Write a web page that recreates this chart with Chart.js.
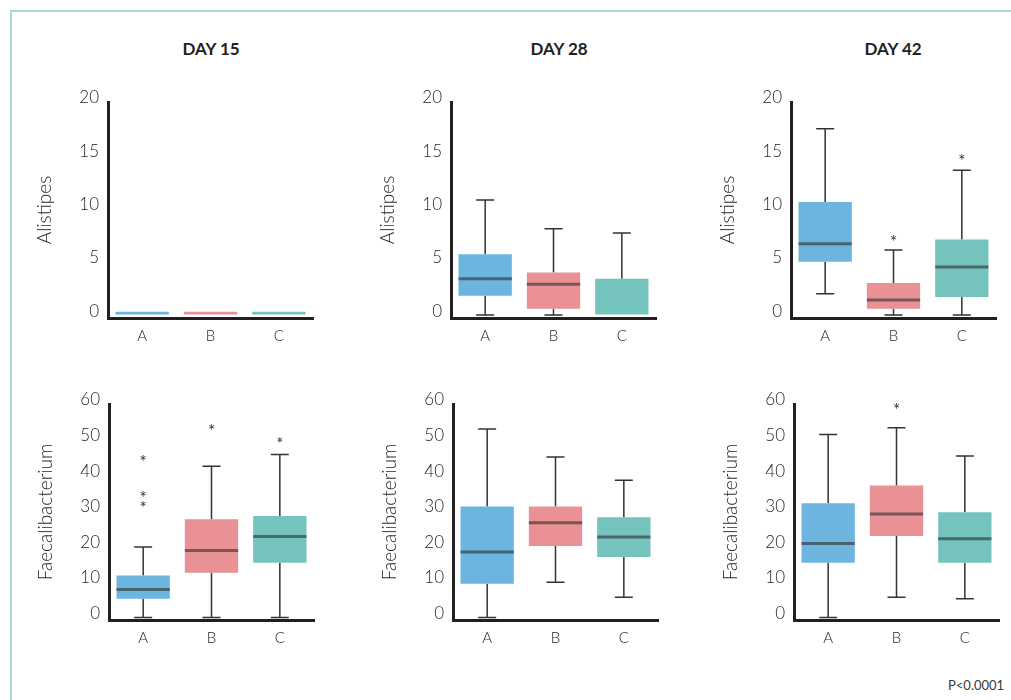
<!DOCTYPE html>
<html>
<head>
<meta charset="utf-8">
<script src="https://cdn.jsdelivr.net/npm/chart.js@4"></script>
<style>
  body { margin: 0; background: #fff; width: 1011px; height: 700px; position: relative; overflow: hidden; font-family: Lato, sans-serif; }
  .frame { position: absolute; left: 10px; top: 10px; width: 1100px; height: 800px;
           border-left: 2px solid #a8d8d6; border-top: 2px solid #a8d8d6; }
  .day { position: absolute; top: 38px; font: 700 17px Lato, sans-serif; color: #231f20; transform: translateX(-50%); white-space: nowrap; }
  .pval { position: absolute; left: 948px; top: 677px; font: 400 13px Lato, sans-serif; color: #3a3a3a; }
  .panel { position: absolute; width: 315px; height: 291px; }
</style>
</head>
<body>
<div class="frame"></div>
<div class="day" style="left:211px">DAY 15</div>
<div class="day" style="left:559px">DAY 28</div>
<div class="day" style="left:893px">DAY 42</div>

<div class="panel" style="left:8px;top:72px"><canvas id="c0" width="315" height="291"></canvas></div>
<div class="panel" style="left:351px;top:72px"><canvas id="c1" width="315" height="291"></canvas></div>
<div class="panel" style="left:691px;top:72px"><canvas id="c2" width="315" height="291"></canvas></div>
<div class="panel" style="left:9px;top:374px"><canvas id="c3" width="315" height="291"></canvas></div>
<div class="panel" style="left:353px;top:374px"><canvas id="c4" width="315" height="291"></canvas></div>
<div class="panel" style="left:694px;top:374px"><canvas id="c5" width="315" height="291"></canvas></div>
<div class="pval">P&lt;0.0001</div>

<script>
// groupes et couleurs
const groups = ['A', 'B', 'C'];
const colors = ['#6cb5de', '#e99195', '#74c4bd'];

// ticks des axes y
const alistipesTicks = [0, 5, 10, 15, 20];
const faecaliTicks = [0, 10, 20, 30, 40, 50, 60];

// [moustache basse, Q1, médiane, Q3, moustache haute] par groupe (null = médiane cachée)
const alistipes15 = [[0, 0, null, 0.3, 0], [0, 0, null, 0.3, 0], [0, 0, null, 0.3, 0]];
const alistipes28 = [[0, 1.8, 3.4, 5.7, 10.8], [0, 0.6, 2.9, 4.0, 8.1], [0, 0, null, 3.4, 7.7]];
const alistipes42 = [[2.0, 5.0, 6.7, 10.6, 17.5], [0, 0.6, 1.4, 3.0, 6.1], [0, 1.7, 4.5, 7.1, 13.6]];
const faecali15 = [[0, 5.3, 7.9, 11.8, 19.8], [0, 12.6, 18.8, 27.6, 42.5], [0, 15.4, 22.8, 28.5, 45.8]];
const faecali28 = [[0, 9.5, 18.4, 31.2, 53.0], [9.9, 20.1, 26.6, 31.2, 45.1], [5.7, 17.0, 22.6, 28.2, 38.6]];
const faecali42 = [[0, 15.4, 20.8, 32.1, 51.4], [5.7, 22.9, 29.1, 37.1, 53.3], [5.3, 15.4, 22.1, 29.6, 45.4]];

// valeurs aberrantes (*)
const alistipes15Out = [[], [], []];
const alistipes28Out = [[], [], []];
const alistipes42Out = [[], [7.2], [14.8]];
const faecali15Out = [[44.9, 34.8, 31.8], [53.5], [50.0]];
const faecali28Out = [[], [], []];
const faecali42Out = [[], [59.3], []];

const ink = '#231f20';

// plugin maison pour dessiner moustaches, médianes et astérisques
const boxPlot = {
    id: 'boxPlot',
    beforeDatasetsDraw(chart) {
        const ds = chart.data.datasets[0];
        const y = chart.scales.y;
        const ctx = chart.ctx;
        ctx.save();
        ctx.strokeStyle = '#333';
        ctx.lineWidth = 1.5;
        chart.getDatasetMeta(0).data.forEach((bar, i) => {
            const s = ds.stats[i];
            const x = bar.x;
            const cap = 9;
            ctx.beginPath();
            if (s[0] < s[1]) {
                ctx.moveTo(x, y.getPixelForValue(s[1]));
                ctx.lineTo(x, y.getPixelForValue(s[0]));
                ctx.moveTo(x - cap, y.getPixelForValue(s[0]));
                ctx.lineTo(x + cap, y.getPixelForValue(s[0]));
            }
            if (s[4] > s[3]) {
                ctx.moveTo(x, y.getPixelForValue(s[3]));
                ctx.lineTo(x, y.getPixelForValue(s[4]));
                ctx.moveTo(x - cap, y.getPixelForValue(s[4]));
                ctx.lineTo(x + cap, y.getPixelForValue(s[4]));
            }
            ctx.stroke();
        });
        ctx.restore();
    },
    afterDatasetsDraw(chart) {
        const ds = chart.data.datasets[0];
        const y = chart.scales.y;
        const ctx = chart.ctx;
        ctx.save();
        chart.getDatasetMeta(0).data.forEach((bar, i) => {
            const s = ds.stats[i];
            const half = bar.width / 2;
            if (s[2] !== null) {
                ctx.strokeStyle = 'rgba(45, 45, 45, 0.6)';
                ctx.lineWidth = 3;
                ctx.beginPath();
                ctx.moveTo(bar.x - half, y.getPixelForValue(s[2]));
                ctx.lineTo(bar.x + half, y.getPixelForValue(s[2]));
                ctx.stroke();
            }
            ctx.fillStyle = '#333';
            ctx.font = '400 17px Lato, sans-serif';
            ctx.textAlign = 'center';
            ctx.textBaseline = 'alphabetic';
            const m = ctx.measureText('*');
            const off = (m.actualBoundingBoxAscent - m.actualBoundingBoxDescent) / 2;
            ds.outliers[i].forEach(v => {
                ctx.fillText('*', bar.x, y.getPixelForValue(v) + off);
            });
        });
        ctx.restore();
    }
};

function makeChart(id, stats, outliers, ticks, yMin, title) {
    const ctx = document.getElementById(id).getContext('2d');
    return new Chart(ctx, {
        type: 'bar',
        data: {
            labels: groups,
            datasets: [{
                data: stats.map(s => [s[1], s[3]]),
                backgroundColor: colors,
                borderWidth: 0,
                barPercentage: 0.78,
                categoryPercentage: 1,
                stats: stats,
                outliers: outliers
            }]
        },
        options: {
            responsive: false,
            animation: false,
            layout: { padding: { top: 30, right: 10, bottom: 0, left: 0 } },
            plugins: { legend: { display: false }, tooltip: { enabled: false } },
            scales: {
                x: {
                    offset: true,
                    grid: { drawOnChartArea: false, drawTicks: false },
                    border: { display: true, width: 3, color: ink },
                    ticks: { padding: 9, color: ink, font: { family: 'Lato', size: 15, weight: 300 } },
                    afterFit: s => { s.height = 45; }
                },
                y: {
                    min: yMin,
                    max: ticks[ticks.length - 1],
                    grid: { drawOnChartArea: false, drawTicks: false },
                    border: { display: true, width: 3, color: ink },
                    ticks: { padding: 9, labelOffset: -4, color: ink, font: { family: 'Lato', size: 17, weight: 300 } },
                    afterBuildTicks: s => { s.ticks = ticks.map(v => ({ value: v })); },
                    title: { display: true, text: title, color: ink, padding: { top: 25, bottom: 0 }, font: { family: 'Lato', size: 19, weight: 300 } },
                    afterFit: s => { s.width = 100; }
                }
            }
        },
        plugins: [boxPlot]
    });
}

makeChart('c0', alistipes15, alistipes15Out, alistipesTicks, -0.28, 'Alistipes');
makeChart('c1', alistipes28, alistipes28Out, alistipesTicks, -0.28, 'Alistipes');
makeChart('c2', alistipes42, alistipes42Out, alistipesTicks, -0.28, 'Alistipes');
makeChart('c3', faecali15, faecali15Out, faecaliTicks, -0.7, 'Faecalibacterium');
makeChart('c4', faecali28, faecali28Out, faecaliTicks, -0.7, 'Faecalibacterium');
makeChart('c5', faecali42, faecali42Out, faecaliTicks, -0.7, 'Faecalibacterium');
</script>
</body>
</html>
